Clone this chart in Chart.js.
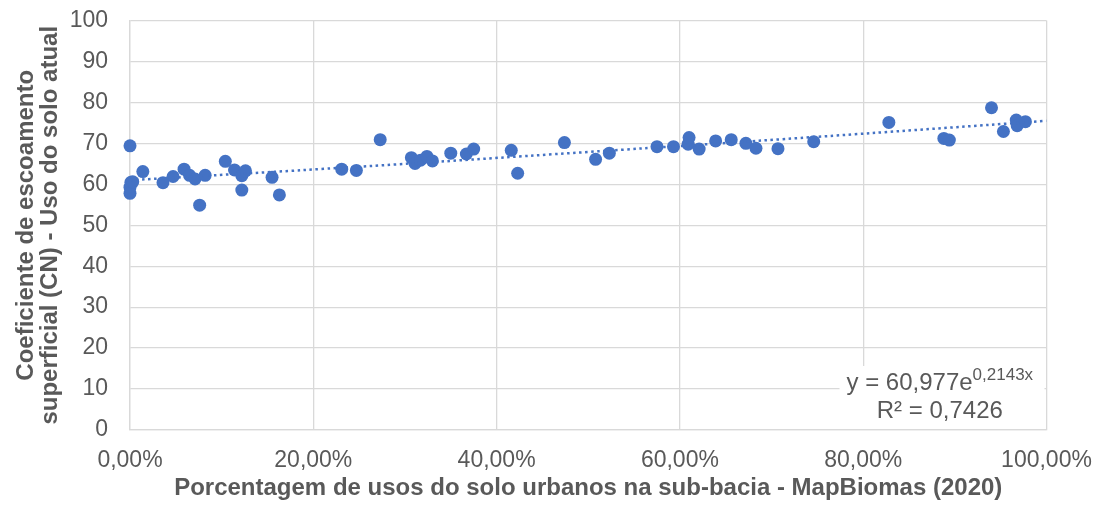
<!DOCTYPE html>
<html>
<head>
<meta charset="utf-8">
<script src="https://cdn.jsdelivr.net/npm/chart.js@4/dist/chart.umd.min.js"></script>
<style>
  html, body { margin: 0; padding: 0; background: #ffffff; }
  #wrap { width: 1099px; height: 507px; }
</style>
</head>
<body>
<div id="wrap"><canvas id="cn-chart" width="1099" height="507"></canvas></div>
<script>
// % urbano (fração 0..1) e CN
const urbanShare = [
  0.000, 0.001, 0.000, 0.000, 0.003, 0.014, 0.036, 0.047, 0.059, 0.065,
  0.071, 0.076, 0.082, 0.104, 0.114, 0.122, 0.126, 0.122, 0.155, 0.163,
  0.231, 0.247, 0.273, 0.307, 0.311, 0.317, 0.324, 0.330, 0.350, 0.367,
  0.375, 0.416, 0.423, 0.474, 0.508, 0.523, 0.575, 0.593, 0.609, 0.610,
  0.621, 0.639, 0.656, 0.672, 0.683, 0.707, 0.746, 0.828, 0.888, 0.894,
  0.940, 0.953, 0.967, 0.968, 0.977
]
const cnValues = [
  69.4, 60.5, 59.3, 57.8, 60.6, 63.1, 60.4, 61.9, 63.7, 62.2,
  61.3, 54.9, 62.2, 65.6, 63.5, 62.1, 63.3, 58.6, 61.7, 57.4,
  63.7, 63.4, 70.9, 66.5, 65.1, 65.9, 66.8, 65.7, 67.6, 67.4,
  68.6, 68.3, 62.7, 70.2, 66.1, 67.6, 69.2, 69.2, 69.8, 71.4,
  68.6, 70.6, 70.9, 70.0, 68.8, 68.7, 70.4, 75.1, 71.2, 70.8,
  78.7, 72.9, 75.7, 74.3, 75.3
]

const trendX = [0, 0.25, 0.5, 0.75, 1.0]
const trendY = [61.0, 64.3, 67.9, 71.6, 75.5]

const xTickLabels = ['0,00%', '20,00%', '40,00%', '60,00%', '80,00%', '100,00%']
const yTickLabels = ['0', '10', '20', '30', '40', '50', '60', '70', '80', '90', '100']

const eqMain = 'y = 60,977e'
const eqSup = '0,2143x'
const eqR2 = 'R² = 0,7426'

const blue = '#4472C4'
const gray = '#595959'
const gridGray = '#d9d9d9'
const fontFam = '"Liberation Sans", Arial, sans-serif'

const points = urbanShare.map((x, i) => ({ x: x, y: cnValues[i] }))
const trend = trendX.map((x, i) => ({ x: x, y: trendY[i] }))

// caixa da equação (fundo branco por cima da grade)
const equationBox = {
  id: 'equationBox',
  afterDraw(chart) {
    const ctx = chart.ctx
    const area = chart.chartArea
    ctx.save()
    ctx.fillStyle = '#ffffff'
    ctx.fillRect(area.right - 207, area.bottom - 64, 205, 63)
    ctx.fillStyle = gray
    ctx.textBaseline = 'middle'
    ctx.font = '24px ' + fontFam
    const mainW = ctx.measureText(eqMain).width
    ctx.font = '17px ' + fontFam
    const supW = ctx.measureText(eqSup).width
    const x0 = area.right - 200
    ctx.font = '24px ' + fontFam
    ctx.textAlign = 'left'
    ctx.fillText(eqMain, x0, area.bottom - 47)
    ctx.font = '17px ' + fontFam
    ctx.fillText(eqSup, x0 + mainW, area.bottom - 55)
    ctx.font = '24px ' + fontFam
    ctx.textAlign = 'center'
    ctx.fillText(eqR2, x0 + (mainW + supW) / 2, area.bottom - 19)
    ctx.restore()
  }
}

const ctx = document.getElementById('cn-chart').getContext('2d')
const chart = new Chart(ctx, {
  type: 'scatter',
  data: {
    datasets: [
      {
        label: 'Tendência',
        type: 'line',
        data: trend,
        borderColor: blue,
        borderWidth: 2.5,
        borderDash: [2.5, 3.5],
        pointRadius: 0,
        fill: false,
        tension: 0.4
      },
      {
        label: 'CN',
        data: points,
        backgroundColor: blue,
        borderColor: blue,
        borderWidth: 0,
        pointRadius: 6.5,
        clip: false
      }
    ]
  },
  options: {
    responsive: false,
    animation: false,
    layout: { padding: { top: 20.5, right: 52.5, bottom: 0, left: 0 } },
    plugins: {
      legend: { display: false },
      tooltip: { enabled: false }
    },
    scales: {
      x: {
        type: 'linear',
        min: 0,
        max: 1,
        ticks: {
          stepSize: 0.2,
          padding: 17,
          color: gray,
          font: { family: fontFam, size: 23 },
          callback: (v, i) => xTickLabels[i]
        },
        grid: { color: gridGray, lineWidth: 1.3, drawTicks: false },
        border: { color: gridGray, width: 1.3 },
        title: {
          display: true,
          text: 'Porcentagem de usos do solo urbanos na sub-bacia - MapBiomas (2020)',
          color: gray,
          font: { family: fontFam, size: 24, weight: 'bold' },
          padding: { top: 0, bottom: 4 }
        },
        afterFit: (s) => {
          s.height = 77
          s.paddingLeft = 0
          s.paddingRight = 0
        }
      },
      y: {
        min: 0,
        max: 100,
        ticks: {
          stepSize: 10,
          padding: 22,
          color: gray,
          font: { family: fontFam, size: 23 },
          callback: (v, i) => yTickLabels[i]
        },
        grid: { color: gridGray, lineWidth: 1.3, drawTicks: false },
        border: { color: gridGray, width: 1.3 },
        title: {
          display: true,
          text: ['Coeficiente de escoamento', 'superficial (CN) - Uso do solo atual'],
          color: gray,
          font: { family: fontFam, size: 24, weight: 'bold', lineHeight: 1.0 },
          padding: { top: 14, bottom: 0 }
        },
        afterFit: (s) => {
          s.width = 130
          s.paddingTop = 0
          s.paddingBottom = 0
        }
      }
    }
  },
  plugins: [equationBox]
})
</script>
</body>
</html>
